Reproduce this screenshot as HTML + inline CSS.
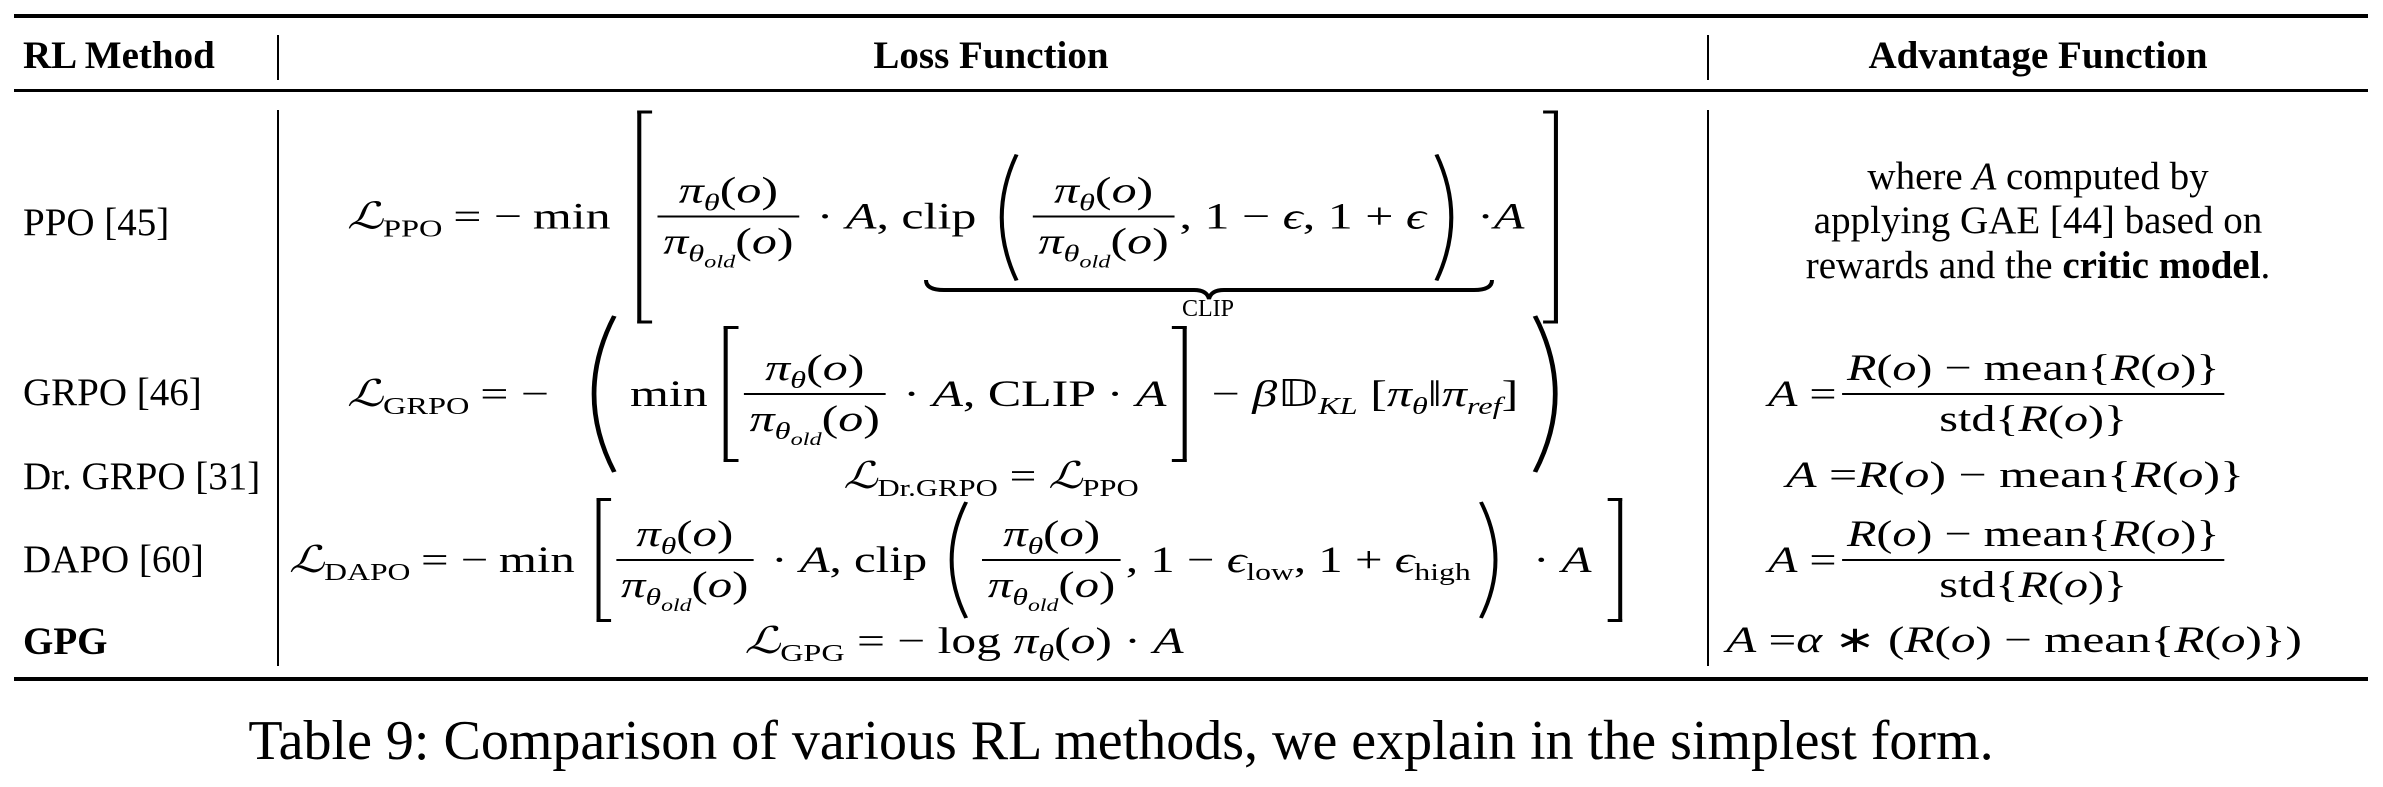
<!DOCTYPE html>
<html><head><meta charset="utf-8"><style>
html,body{margin:0;padding:0;background:#fff;}
body{width:2383px;height:787px;position:relative;overflow:hidden;font-family:"Liberation Serif",serif;color:#000;}
.a{position:absolute;white-space:nowrap;line-height:1;}
.rule{position:absolute;background:#000;}
.t{font-size:39px;}
.b{font-weight:bold;}
.eq{position:absolute;display:flex;align-items:center;white-space:nowrap;font-size:37px;line-height:1;transform-origin:0 50%;}
i{font-style:italic;}
.frac{display:inline-flex;flex-direction:column;align-items:center;margin:0 4px;}
.frac .n{padding:0 4px 6px;}
.frac .d{padding:6px 4px 0;}
.frac .l{height:2px;background:#000;align-self:stretch;}
sub{font-size:24px;vertical-align:-8px;line-height:0;}
sub sub{font-size:18px;vertical-align:-6px;}
.sb{display:inline-block;width:8px;border:3px solid #000;}
.sbl{border-right:none;}
.sbr{border-left:none;}
.sp{margin:0 8px;}
</style></head><body>
<div class="rule" style="left:14px;top:14px;width:2354px;height:4px"></div>
<div class="rule" style="left:14px;top:89px;width:2354px;height:3px"></div>
<div class="rule" style="left:14px;top:677px;width:2354px;height:4px"></div>
<div class="rule" style="left:277px;top:35px;width:2px;height:45px"></div>
<div class="rule" style="left:1707px;top:35px;width:2px;height:45px"></div>
<div class="rule" style="left:277px;top:110px;width:2px;height:556px"></div>
<div class="rule" style="left:1707px;top:110px;width:2px;height:556px"></div>

<div class="a t b" style="left:23px;top:36px">RL Method</div>
<div class="a t b" style="left:991px;top:36px;transform:translateX(-50%)">Loss Function</div>
<div class="a t b" style="left:2038px;top:36px;transform:translateX(-50%)">Advantage Function</div>

<div class="a t" style="left:23px;top:203px">PPO [45]</div>
<div class="a t" style="left:23px;top:373px">GRPO [46]</div>
<div class="a t" style="left:23px;top:457px">Dr. GRPO [31]</div>
<div class="a t" style="left:23px;top:540px">DAPO [60]</div>
<div class="a t b" style="left:23px;top:622px">GPG</div>

<!-- PPO -->
<div class="eq" style="left:347px;top:217px;transform:translateY(-50%) scaleX(1.35)">
<span><i>ℒ</i><sub>PPO</sub></span><span class="sp">= −</span><span style="margin-right:20px">min</span>
<span class="sb sbl" style="height:207px"></span>
<span class="frac"><span class="n"><i>π</i><sub><i>θ</i></sub>(<i>o</i>)</span><span class="l"></span><span class="d"><i>π</i><sub><i>θ</i><sub><i>old</i></sub></sub>(<i>o</i>)</span></span>
<span>&nbsp;· <i>A</i>, clip</span>
<svg width="30" height="130" viewBox="0 0 30 130" style="margin:0 4px"><path d="M26 2 Q4 65 26 128" stroke="#000" stroke-width="3" fill="none"/></svg>
<span class="frac"><span class="n"><i>π</i><sub><i>θ</i></sub>(<i>o</i>)</span><span class="l"></span><span class="d"><i>π</i><sub><i>θ</i><sub><i>old</i></sub></sub>(<i>o</i>)</span></span>
<span>, 1 − <i>ϵ</i>, 1 + <i>ϵ</i></span>
<svg width="30" height="130" viewBox="0 0 30 130" style="margin:0 4px"><path d="M4 2 Q26 65 4 128" stroke="#000" stroke-width="3" fill="none"/></svg>
<span>·<i>A</i></span>
<span class="sb sbr" style="height:207px;margin-left:14px"></span>
</div>
<svg class="a" style="left:924px;top:278px" width="570" height="22" viewBox="0 0 570 22"><path d="M2 2 Q2 12 20 12 L270 12 Q283 12 285 21 Q287 12 300 12 L550 12 Q568 12 568 2" stroke="#000" stroke-width="4" fill="none"/></svg>
<div class="a" style="left:1208px;top:297px;font-size:24px;transform:translateX(-50%)">CLIP</div>

<!-- GRPO -->
<div class="eq" style="left:347px;top:394px;transform:translateY(-50%) scaleX(1.35)">
<span><i>ℒ</i><sub>GRPO</sub></span><span class="sp">= −</span>
<svg width="40" height="160" viewBox="0 0 40 160" style="margin:0 6px"><path d="M34 2 Q4 80 34 158" stroke="#000" stroke-width="3.5" fill="none"/></svg>
<span style="margin-right:12px">min</span>
<span class="sb sbl" style="height:130px"></span>
<span class="frac"><span class="n"><i>π</i><sub><i>θ</i></sub>(<i>o</i>)</span><span class="l"></span><span class="d"><i>π</i><sub><i>θ</i><sub><i>old</i></sub></sub>(<i>o</i>)</span></span>
<span>&nbsp;· <i>A</i>, CLIP · <i>A</i></span>
<span class="sb sbr" style="height:130px;margin-left:4px"></span>
<span>&nbsp;&nbsp;− <i>β</i>𝔻<sub><i>KL</i></sub> [<i>π</i><sub><i>θ</i></sub>‖<i>π</i><sub><i>ref</i></sub>]</span>
<svg width="40" height="160" viewBox="0 0 40 160" style="margin:0 6px"><path d="M6 2 Q36 80 6 158" stroke="#000" stroke-width="3.5" fill="none"/></svg>
</div>

<!-- Dr GRPO -->
<div class="a" style="left:991px;top:458px;font-size:37px;transform:translateX(-50%) scaleX(1.28)"><i>ℒ</i><sub>Dr.GRPO</sub> = <i>ℒ</i><sub>PPO</sub></div>

<!-- DAPO -->
<div class="eq" style="left:289px;top:560px;transform:translateY(-50%) scaleX(1.32)">
<span><i>ℒ</i><sub>DAPO</sub></span><span class="sp">= −</span><span style="margin-right:16px">min</span>
<span class="sb sbl" style="height:118px"></span>
<span class="frac"><span class="n"><i>π</i><sub><i>θ</i></sub>(<i>o</i>)</span><span class="l"></span><span class="d"><i>π</i><sub><i>θ</i><sub><i>old</i></sub></sub>(<i>o</i>)</span></span>
<span>&nbsp;· <i>A</i>, clip</span>
<svg width="30" height="120" viewBox="0 0 30 120" style="margin:0 4px"><path d="M26 2 Q4 60 26 118" stroke="#000" stroke-width="3" fill="none"/></svg>
<span class="frac"><span class="n"><i>π</i><sub><i>θ</i></sub>(<i>o</i>)</span><span class="l"></span><span class="d"><i>π</i><sub><i>θ</i><sub><i>old</i></sub></sub>(<i>o</i>)</span></span>
<span>, 1 − <i>ϵ</i><sub>low</sub>, 1 + <i>ϵ</i><sub>high</sub></span>
<svg width="30" height="120" viewBox="0 0 30 120" style="margin:0 4px"><path d="M4 2 Q26 60 4 118" stroke="#000" stroke-width="3" fill="none"/></svg>
<span>&nbsp;· <i>A</i></span>
<span class="sb sbr" style="height:118px;margin-left:12px"></span>
</div>

<!-- GPG -->
<div class="a" style="left:964px;top:623px;font-size:37px;transform:translateX(-50%) scaleX(1.34)"><i>ℒ</i><sub>GPG</sub> = − log <i>π</i><sub><i>θ</i></sub>(<i>o</i>) · <i>A</i></div>

<!-- Advantage -->
<div class="a t" style="left:2038px;top:157px;transform:translateX(-50%)">where <i>A</i> computed by</div>
<div class="a t" style="left:2038px;top:201px;transform:translateX(-50%)">applying GAE [44] based on</div>
<div class="a t" style="left:2038px;top:246px;transform:translateX(-50%)">rewards and the <b>critic model</b>.</div>

<div class="eq" style="left:1768px;top:394px;transform:translateY(-50%) scaleX(1.3)"><span><i>A</i> =</span><span class="frac"><span class="n"><i>R</i>(<i>o</i>) − mean{<i>R</i>(<i>o</i>)}</span><span class="l"></span><span class="d">std{<i>R</i>(<i>o</i>)}</span></span></div>
<div class="a" style="left:2015px;top:457px;font-size:37px;transform:translateX(-50%) scaleX(1.35)"><i>A</i> =<i>R</i>(<i>o</i>) − mean{<i>R</i>(<i>o</i>)}</div>
<div class="eq" style="left:1768px;top:560px;transform:translateY(-50%) scaleX(1.3)"><span><i>A</i> =</span><span class="frac"><span class="n"><i>R</i>(<i>o</i>) − mean{<i>R</i>(<i>o</i>)}</span><span class="l"></span><span class="d">std{<i>R</i>(<i>o</i>)}</span></span></div>
<div class="a" style="left:2014px;top:622px;font-size:37px;transform:translateX(-50%) scaleX(1.33)"><i>A</i> =<i>α</i> ∗ (<i>R</i>(<i>o</i>) − mean{<i>R</i>(<i>o</i>)})</div>

<div class="a" style="left:1121px;top:713px;font-size:56px;transform:translateX(-50%)">Table 9: Comparison of various RL methods, we explain in the simplest form.</div>
</body></html>
